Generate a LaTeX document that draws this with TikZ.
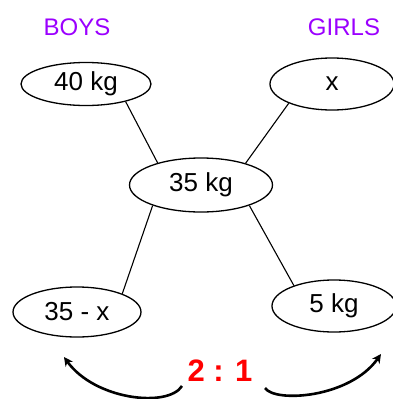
\documentclass[tikz,border=0pt]{standalone}
\usepackage{fontspec}
\setmainfont{Liberation Sans}
\usetikzlibrary{shapes.geometric,arrows.meta}
\definecolor{boyviolet}{RGB}{155,0,255}
\tikzset{
	weight/.style={draw, ellipse, line width=1.3pt, inner sep=0pt, font=\fontsize{26}{30}\selectfont},
	side/.style={text=boyviolet, font=\fontsize{24}{28}\selectfont},
	link/.style={line width=1.1pt},
	swing/.style={line width=2.6pt, -{Stealth[length=9pt,width=9pt]}}
}
\begin{document}
\begin{tikzpicture}[x=1pt, y=-1pt]
	\useasboundingbox (0,0) rectangle (392,399);
	% Headings
	\node[side] at (77, 27) (boys) {BOYS};
	\node[side] at (344, 27) (girls) {GIRLS};
	% Weights
	\node[weight, minimum width=130, minimum height=43] at (86, 84) (w40) {40 kg};
	\node[weight, minimum width=124, minimum height=52] at (332, 84) (wx) {x};
	\node[weight, minimum width=143, minimum height=54] at (201, 185) (w35) {35 kg};
	\node[weight, minimum width=128, minimum height=50] at (77, 312) (wdiff) {35 - x};
	\node[weight, minimum width=124, minimum height=52] at (334, 306) (w5) {5 kg};
	% Cross links
	\draw[link] (w40.-24) -- (w35.153);
	\draw[link] (wx.-156) -- (w35.26);
	\draw[link] (w35.-157) -- (wdiff.22);
	\draw[link] (w35.-23) -- (w5.153);
	% Ratio
	\node[text=red, font=\fontsize{31}{36}\selectfont\bfseries] at (220, 371) (ratio) {2 : 1};
	\coordinate (lefttail) at (182, 386);
	\coordinate (lefttip) at (64, 357);
	\coordinate (righttail) at (265, 388);
	\coordinate (righttip) at (381, 354);
	\draw[swing] (lefttail) .. controls (168, 408) and (95, 400) .. (lefttip);
	\draw[swing] (righttail) .. controls (275, 403) and (350, 398) .. (righttip);
\end{tikzpicture}
\end{document}
